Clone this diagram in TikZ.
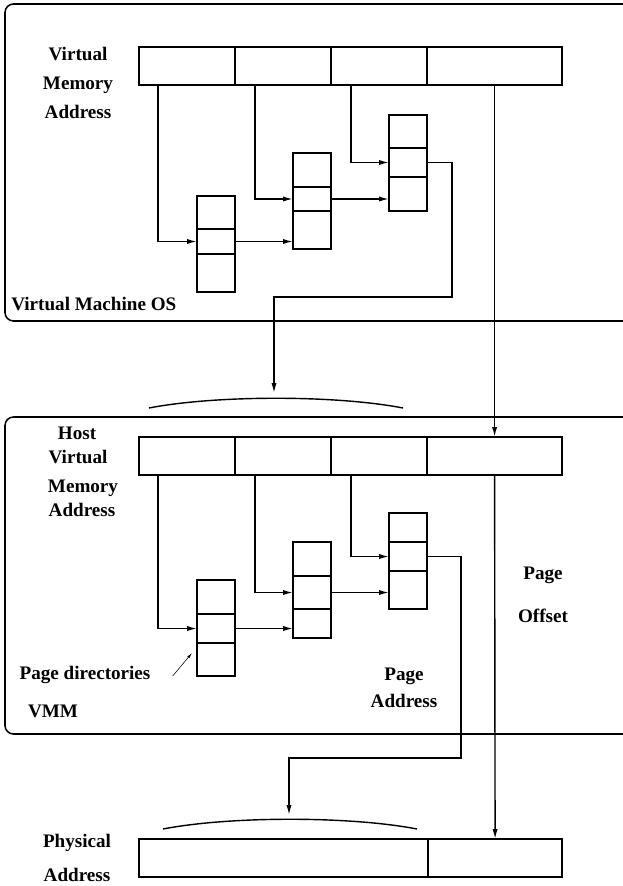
\documentclass[tikz,border=0pt]{standalone}
\usepackage{fontspec}
\setmainfont{Liberation Serif}
\usetikzlibrary{arrows.meta,calc}

\begin{document}
\begin{tikzpicture}[x=0.025cm,y=-0.025cm,
    >={Latex[length=7pt,width=3.6pt]},
    lbl/.style={font=\fontsize{13.6}{16}\selectfont\bfseries,text height=1.6ex,text depth=.3ex,inner sep=0pt},
    cell/.style={draw,line width=1pt,inner sep=0pt,outer sep=0pt,anchor=north west},
    link/.style={->,line width=1pt},
    osbox/.style={draw,line width=1.1pt,rounded corners=6pt}]
  \useasboundingbox (0,0) rectangle (623,886);
  \clip (0,0) rectangle (623,886);

  % the two systems
  \draw[osbox] (5,4) rectangle (660,321);
  \draw[osbox] (5,417) rectangle (660,734);

  % guest virtual address
  \node[cell,minimum width=2.4cm,minimum height=0.95cm] (b1) at (139,47) {};
  \node[cell,minimum width=2.4cm,minimum height=0.95cm] (b2) at (b1.north east) {};
  \node[cell,minimum width=2.4cm,minimum height=0.95cm] (b3) at (b2.north east) {};
  \node[cell,minimum width=3.375cm,minimum height=0.95cm] (b4) at (b3.north east) {};

  % host virtual address
  \node[cell,minimum width=2.4cm,minimum height=0.95cm] (hb1) at (139,437) {};
  \node[cell,minimum width=2.4cm,minimum height=0.95cm] (hb2) at (hb1.north east) {};
  \node[cell,minimum width=2.4cm,minimum height=0.95cm] (hb3) at (hb2.north east) {};
  \node[cell,minimum width=3.375cm,minimum height=0.95cm] (hb4) at (hb3.north east) {};

  % physical address
  \node[cell,minimum width=7.225cm,minimum height=0.95cm] (pb1) at (139,839) {};
  \node[cell,minimum width=3.35cm,minimum height=0.95cm] (pb2) at (pb1.north east) {};

  % page tables
  \foreach \n/\x/\y/\ha/\hb/\hc in {t1/197/196/33/25/38,t2/293/153/34/24/38,t3/389/115/33/29/34,
      ht1/197/580/34/29/33,ht2/293/542/34/33/29,ht3/389/513/29/29/38}
  {
    \node[cell,minimum width=0.95cm,minimum height=\ha*0.025cm] (\n-a) at (\x,\y) {};
    \node[cell,minimum width=0.95cm,minimum height=\hb*0.025cm] (\n-b) at (\n-a.south west) {};
    \node[cell,minimum width=0.95cm,minimum height=\hc*0.025cm] (\n-c) at (\n-b.south west) {};
  }

  % walk in the guest
  \draw[link] ($(b1.south west)+(19,0)$) |- (t1-b.west);
  \draw[link] ($(b2.south west)+(20,0)$) |- (t2-b.west);
  \draw[link] ($(b3.south west)+(20,0)$) |- (t3-b.west);
  \draw[link] (t1-b.east) -- (t1-b.east -| t2-c.west);
  \draw[link] (t2-b.east) -- (t2-b.east -| t3-c.west);
  \coordinate (vmturn) at (274,297);
  \coordinate (vmtip) at (274,393);
  \draw[link] (t3-b.east) -- ++(25,0) |- (vmturn) -- (vmtip);
  \draw[line width=1pt] (149,408) .. controls (216,395) and (336,395) .. (403,408);

  % walk in the host
  \draw[link] ($(hb1.south west)+(19,0)$) |- (ht1-b.west);
  \draw[link] ($(hb2.south west)+(20,0)$) |- (ht2-b.west);
  \draw[link] ($(hb3.south west)+(20,0)$) |- (ht3-b.west);
  \draw[link] (ht1-b.east) -- (ht1-b.east -| ht2-c.west);
  \draw[link] (ht2-b.east) -- (ht2-b.east -| ht3-c.west);
  \coordinate (hostturn) at (289,758);
  \coordinate (hosttip) at (289,815);
  \draw[link] (ht3-b.east) -- ++(34,0) |- (hostturn) -- (hosttip);
  \draw[line width=1pt] (163,829) .. controls (230,816) and (350,816) .. (417,829);

  % page offset
  \draw[link] (b4.south) -- (hb4.north);
  \draw[link] (hb4.south) -- (pb2.north);

  % labels
  \node[lbl] (vma1) at (78,56) {Virtual};
  \node[lbl] (vma2) at (78,85) {Memory};
  \node[lbl] (vma3) at (78,114) {Address};
  \node[lbl,anchor=west] (vmos) at (11,306) {Virtual Machine OS};
  \node[lbl] (hva1) at (77,435) {Host};
  \node[lbl] (hva2) at (78,459) {Virtual};
  \node[lbl] (hva3) at (83,488) {Memory};
  \node[lbl] (hva4) at (82,512) {Address};
  \node[lbl] (pd) at (85,675) {Page directories};
  \node[lbl] (vmm) at (53,713) {VMM};
  \node[lbl] (po1) at (543,575) {Page};
  \node[lbl] (po2) at (543,618) {Offset};
  \node[lbl] (pa1) at (404,676) {Page};
  \node[lbl] (pa2) at (404,703) {Address};
  \node[lbl] (phy1) at (77,843) {Physical};
  \node[lbl] (phy2) at (77,877) {Address};
  \draw[->,thin,>={Latex[length=4pt,width=2pt]}] ($(pd.east)+(22,1)$) -- ($(ht1-c.south west)+(-5,-23)$);
\end{tikzpicture}
\end{document}
